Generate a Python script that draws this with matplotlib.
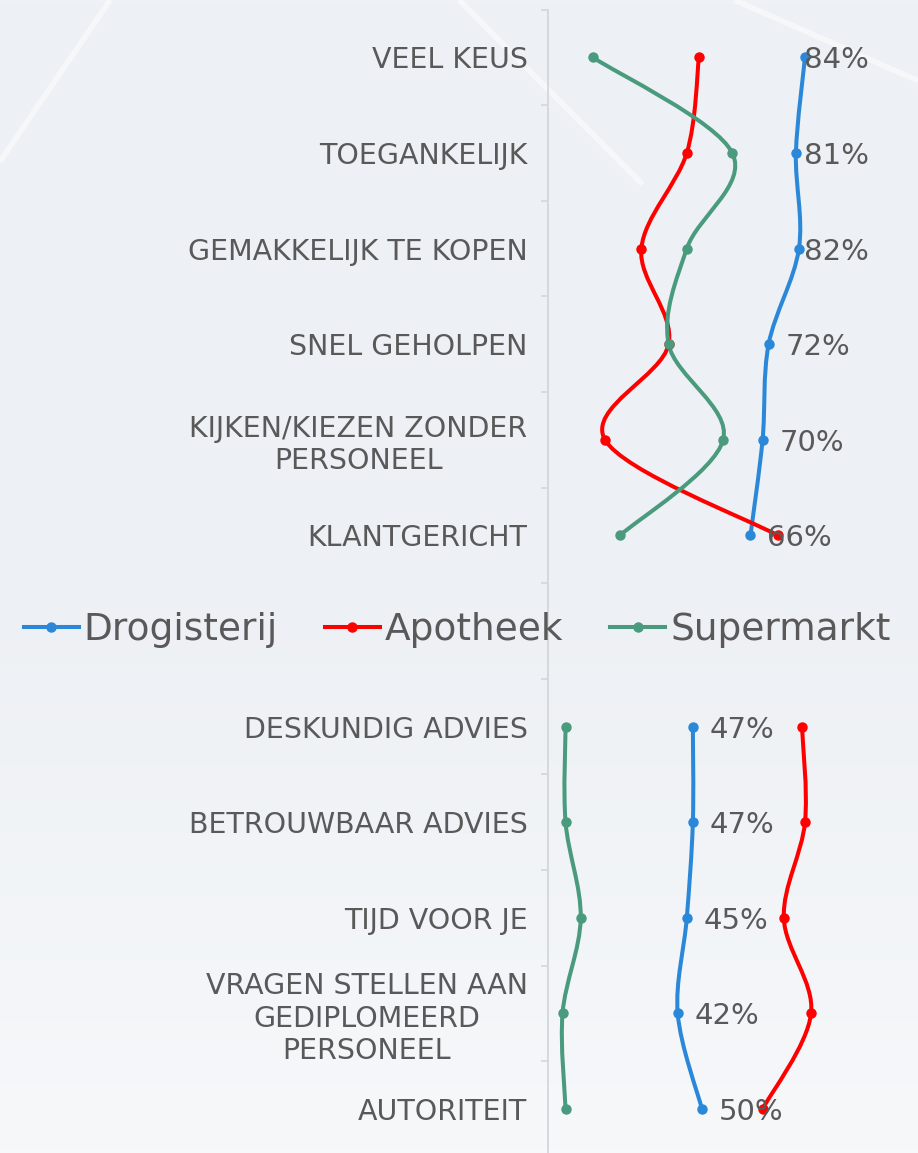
import matplotlib
matplotlib.use("Agg")
import matplotlib.pyplot as plt
from matplotlib.path import Path
from matplotlib.patches import PathPatch
from matplotlib.lines import Line2D
import numpy as np

# categories top -> bottom, blank slot holds the legend
categories = ["VEEL KEUS", "TOEGANKELIJK", "GEMAKKELIJK TE KOPEN", "SNEL GEHOLPEN",
              "KIJKEN/KIEZEN ZONDER\nPERSONEEL", "KLANTGERICHT", "",
              "DESKUNDIG ADVIES", "BETROUWBAAR ADVIES", "TIJD VOOR JE",
              "VRAGEN STELLEN AAN\nGEDIPLOMEERD\nPERSONEEL", "AUTORITEIT"]
drogisterij = [84, 81, 82, 72, 70, 66, None, 47, 47, 45, 42, 50]
apotheek = [49, 45, 30, 39, 18, 75, None, 83, 84, 77, 86, 70]
supermarkt = [14, 60, 45, 39, 57, 23, None, 5, 5, 10, 4, 5]
series_names = ["Drogisterij", "Apotheek", "Supermarkt"]
colors = ["#2b88d8", "#ff0000", "#4a9a7e"]

TXT = "#595959"


def smooth_path(xs, ys):
    # cubic bezier through the points (catmull-rom style, like excel smoothing)
    pts = np.column_stack([xs, ys]).astype(float)
    n = len(pts)
    verts = [pts[0]]
    codes = [Path.MOVETO]
    for i in range(n - 1):
        p0 = pts[i - 1] if i > 0 else pts[i]
        p1, p2 = pts[i], pts[i + 1]
        p3 = pts[i + 2] if i + 2 < n else pts[i + 1]
        c1 = p1 + (p2 - p0) / 6.0
        c2 = p2 - (p3 - p1) / 6.0
        verts += [c1, c2, p2]
        codes += [Path.CURVE4] * 3
    return Path(verts, codes)


def segments(vals):
    segs, cur = [], []
    for i, v in enumerate(vals):
        if v is None:
            if cur:
                segs.append(cur)
            cur = []
        else:
            cur.append((v, i))
    if cur:
        segs.append(cur)
    return segs


fig = plt.figure(figsize=(9.18, 11.53), dpi=100)

# faded background (photo-like: bluish grey on top, whiter at the bottom)
bg = fig.add_axes([0, 0, 1, 1], zorder=-5)
grad = np.linspace(0, 1, 256).reshape(-1, 1)
bg.imshow(grad, aspect="auto", extent=[0, 1, 0, 1],
          cmap=matplotlib.colors.LinearSegmentedColormap.from_list("bg", ["#eef1f5", "#edf0f4", "#f6f8fa"]))
# a few soft light streaks
for (x0, y0, x1, y1) in [(0.0, 0.86, 0.12, 1.0), (0.50, 1.0, 0.70, 0.84), (0.80, 1.0, 1.0, 0.93)]:
    bg.plot([x0, x1], [y0, y1], color="white", lw=4, alpha=0.5, solid_capstyle="butt")
bg.set_xlim(0, 1)
bg.set_ylim(0, 1)
bg.set_axis_off()

ax = fig.add_axes([547.5 / 918, -0.0033, 306.0 / 918, 0.99506])
ax.patch.set_alpha(0)
ax.set_xlim(-0.96, 100)
ax.set_ylim(11.5, -0.5)

for vals, col in zip([drogisterij, apotheek, supermarkt], colors):
    for seg in segments(vals):
        xs = [s[0] for s in seg]
        ys = [s[1] for s in seg]
        ax.add_patch(PathPatch(smooth_path(xs, ys), facecolor="none", edgecolor=col,
                               lw=2.9, capstyle="round", joinstyle="round"))
        ax.plot(xs, ys, linestyle="none", marker="o", ms=6.5, color=col)

# data labels for Drogisterij
for i, v in enumerate(drogisterij):
    if v is None:
        continue
    ax.text(min(v + 5.6, 83.6), i, f"{v}%", ha="left", va="center_baseline",
            fontsize=21, color=TXT, zorder=10, clip_on=False)

ax.set_xticks([])
ax.set_yticks(np.arange(-0.5, 12, 1))
ax.set_yticklabels([])
ax.set_yticks(range(len(categories)), categories, minor=True)
ax.tick_params(axis="y", which="major", length=5, width=1.2, color="#d3d6da")
ax.tick_params(axis="y", which="minor", length=0, pad=14.4, labelsize=20.5, labelcolor=TXT)
for lbl in ax.get_yticklabels(minor=True):
    lbl.set_multialignment("center")
for s in ["top", "right", "bottom"]:
    ax.spines[s].set_visible(False)
ax.spines["left"].set_color("#d3d6da")
ax.spines["left"].set_linewidth(1.3)

handles = [Line2D([], [], color=c, lw=2.9, marker="o", ms=6.5) for c in colors]
fig.legend(handles, series_names, loc="center", bbox_to_anchor=(0.498, 1 - 630 / 1153),
           ncol=3, frameon=False, fontsize=27, labelcolor=TXT, handlelength=1.47,
           handletextpad=0.13, columnspacing=1.25)

fig.savefig("out.png", dpi=100)
